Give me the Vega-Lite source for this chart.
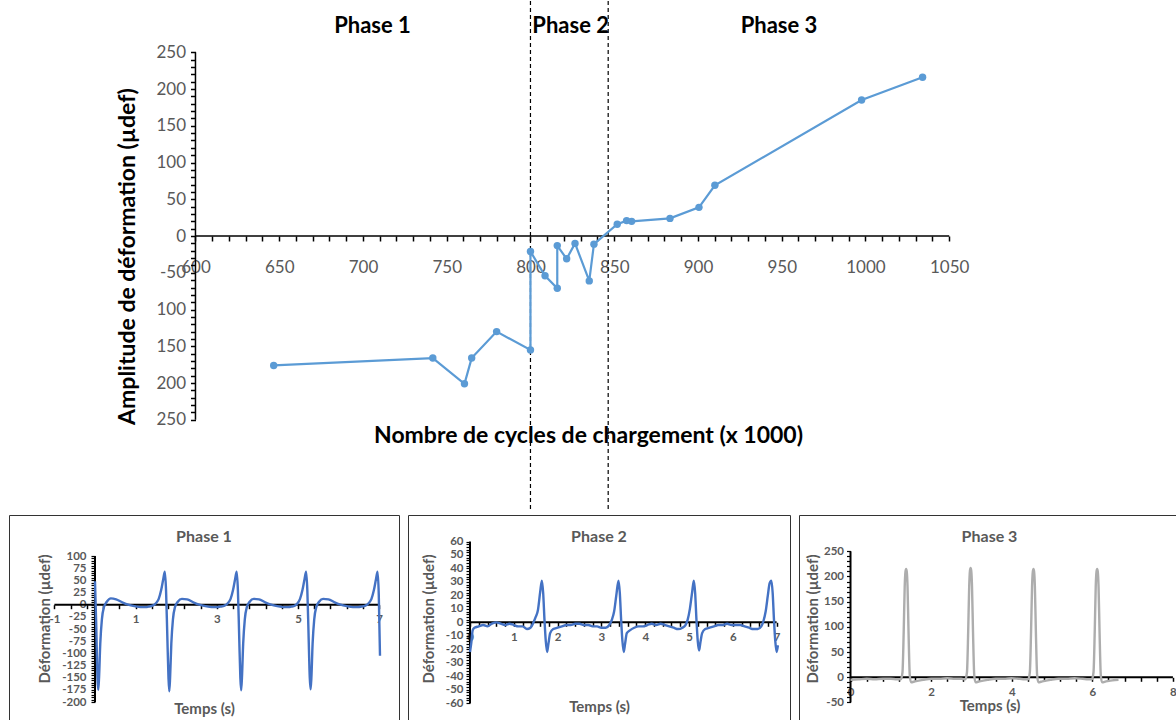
{
  "$schema": "https://vega.github.io/schema/vega-lite/v6.json",
  "padding": 0,
  "background": "white",
  "spacing": 2,
  "config": {
    "view": {"stroke": null},
    "font": "Lato",
    "axis": {"domain": false, "grid": false, "labelOverlap": false, "labelFlush": false, "labelBound": false, "tickColor": "black", "labelFont": "Lato", "titleFont": "Lato"}
  },
  "vconcat": [
    {
      "width": 1176,
      "height": 510,
      "encoding": {
        "x": {"field": "n", "type": "quantitative", "scale": {"domain": [483.3, 1185.4], "nice": false, "zero": false},
          "axis": {"values": [600,610,620,630,640,650,660,670,680,690,700,710,720,730,740,750,760,770,780,790,800,810,820,830,840,850,860,870,880,890,900,910,920,930,940,950,960,970,980,990,1000,1010,1020,1030,1040,1050],
            "format": "d",
            "labelExpr": "datum.value % 50 == 0 ? datum.label : ''",
            "offset": -275, "tickSize": 5, "tickWidth": 1.5, "labelPadding": 18, "labelFontSize": 17, "labelColor": "#595959",
            "title": "Nombre de cycles de chargement (x 1000)", "titleFontSize": 23, "titleColor": "black", "titleFontWeight": "bold", "titlePadding": 149}},
        "y": {"field": "a", "type": "quantitative", "scale": {"domain": [-374, 319.7], "nice": false, "zero": false},
          "axis": {"values": [-250,-240,-230,-220,-210,-200,-190,-180,-170,-160,-150,-140,-130,-120,-110,-100,-90,-80,-70,-60,-50,-40,-30,-20,-10,0,10,20,30,40,50,60,70,80,90,100,110,120,130,140,150,160,170,180,190,200,210,220,230,240,250],
            "labelExpr": "datum.value % 50 != 0 ? '' : (datum.value == -50 ? '-50' : '' + abs(datum.value))",
            "offset": -195.5, "tickSize": 5, "tickWidth": 1.5, "labelPadding": 5, "labelFontSize": 17, "labelColor": "#595959",
            "title": "Amplitude de déformation (µdef)", "titleFontSize": 23, "titleColor": "black", "titleFontWeight": "bold", "titlePadding": 16}}
      },
      "layer": [
        {
          "data": {"values": [{"n": 800, "a": 319.7, "a2": -374}, {"n": 846.4, "a": 319.7, "a2": -374}]},
          "mark": {"type": "rule", "color": "black", "strokeDash": [4, 3], "strokeWidth": 1.2},
          "encoding": {"y2": {"field": "a2"}}
        },
        {
          "data": {"values": [{"n": 600, "a": -250, "a2": 250}]},
          "mark": {"type": "rule", "color": "black", "strokeWidth": 1.5},
          "encoding": {"y2": {"field": "a2"}}
        },
        {
          "data": {"values": [{"n": 600, "n2": 1050, "a": 0}]},
          "mark": {"type": "rule", "color": "black", "strokeWidth": 1.5},
          "encoding": {"x2": {"field": "n2"}}
        },
        {
          "data": {"values": [
            {"i": 1, "n": 646.7, "a": -176},
            {"i": 2, "n": 741.7, "a": -166},
            {"i": 3, "n": 760.6, "a": -201},
            {"i": 4, "n": 764.9, "a": -166},
            {"i": 5, "n": 779.8, "a": -130},
            {"i": 6, "n": 800, "a": -155},
            {"i": 7, "n": 800, "a": -21},
            {"i": 8, "n": 808.7, "a": -54},
            {"i": 9, "n": 816, "a": -71},
            {"i": 10, "n": 816, "a": -13},
            {"i": 11, "n": 821.6, "a": -31},
            {"i": 12, "n": 826.6, "a": -10},
            {"i": 13, "n": 835.1, "a": -61},
            {"i": 14, "n": 837.9, "a": -11},
            {"i": 15, "n": 851.8, "a": 16},
            {"i": 16, "n": 857.4, "a": 21},
            {"i": 17, "n": 860.4, "a": 20},
            {"i": 18, "n": 883.3, "a": 24},
            {"i": 19, "n": 900.6, "a": 39},
            {"i": 20, "n": 910.1, "a": 69},
            {"i": 21, "n": 997.7, "a": 185},
            {"i": 22, "n": 1034.1, "a": 216}
          ]},
          "mark": {"type": "line", "color": "#5B9BD5", "strokeWidth": 2.2, "point": {"filled": true, "size": 55, "color": "#5B9BD5"}},
          "encoding": {"order": {"field": "i", "type": "quantitative"}}
        },
        {
          "data": {"values": [
            {"n": 705.7, "a": 285.7, "label": "Phase 1"},
            {"n": 824, "a": 285.7, "label": "Phase 2"},
            {"n": 948.4, "a": 285.7, "label": "Phase 3"}
          ]},
          "mark": {"type": "text", "font": "Lato", "fontSize": 22, "fontWeight": "bold", "color": "black"},
          "encoding": {"text": {"field": "label"}}
        }
      ]
    },
    {
      "spacing": 7,
      "hconcat": [
        {
          "width": 1,
          "height": 207,
          "data": {"values": [{"s": ""}]},
          "mark": {"type": "text"},
          "encoding": {"text": {"field": "s"}}
        },
        {
          "width": 390,
          "height": 207,
          "view": {"stroke": "#333333", "strokeWidth": 1},
          "title": {"text": "Phase 1", "fontSize": 16, "color": "#595959", "font": "Lato", "fontWeight": "bold", "offset": -38, "frame": "group", "baseline": "middle", "anchor": "middle"},
          "encoding": {
            "x": {"field": "t", "type": "quantitative", "scale": {"domain": [-2.118, 7.488], "nice": false, "zero": false},
              "axis": {"values": [-1,-0.6,-0.2,0.2,0.6,1,1.4,1.8,2.2,2.6,3,3.4,3.8,4.2,4.6,5,5.4,5.8,6.2,6.6,7],
                "labelExpr": "(datum.value == floor(datum.value) && abs(datum.value % 2) == 1) ? '' + datum.value : ''",
                "offset": -117.3, "tickSize": 4, "tickWidth": 1.5, "labelPadding": 5, "labelFontSize": 11.5, "labelFontWeight": "bold", "labelColor": "#595959",
                "title": "Temps (s)", "titleFontSize": 15, "titleColor": "#595959", "titleFontWeight": "bold", "titlePadding": 76}},
            "y": {"field": "v", "type": "quantitative", "scale": {"domain": [-241, 184.3], "nice": false, "zero": false},
              "axis": {"values": [-200,-195,-190,-185,-180,-175,-170,-165,-160,-155,-150,-145,-140,-135,-130,-125,-120,-115,-110,-105,-100,-95,-90,-85,-80,-75,-70,-65,-60,-55,-50,-45,-40,-35,-30,-25,-20,-15,-10,-5,0,5,10,15,20,25,30,35,40,45,50,55,60,65,70,75,80,85,90,95,100],
                "labelExpr": "datum.value % 25 == 0 ? '' + datum.value : ''",
                "offset": -86, "tickSize": 4, "tickWidth": 1.2, "labelPadding": 5, "labelFontSize": 11.5, "labelFontWeight": "bold", "labelColor": "#595959",
                "title": "Déformation (µdef)", "titleFontSize": 15, "titleColor": "#595959", "titleFontWeight": "bold", "titlePadding": 9}}
          },
          "layer": [
            {
              "data": {"values": [{"t": 0, "v": -200, "v2": 100}]},
              "mark": {"type": "rule", "color": "black", "strokeWidth": 2},
              "encoding": {"y2": {"field": "v2"}}
            },
            {
              "data": {"values": [{"t": -1, "t2": 7, "v": 0}]},
              "mark": {"type": "rule", "color": "black", "strokeWidth": 2},
              "encoding": {"x2": {"field": "t2"}}
            },
            {
              "data": {"values": [
                {"t": 0, "v": 48}, {"t": 0.03, "v": -40}, {"t": 0.06, "v": -150}, {"t": 0.08, "v": -175}, {"t": 0.1, "v": -150}, {"t": 0.13, "v": -80}, {"t": 0.17, "v": -30}, {"t": 0.22, "v": -5}, {"t": 0.29, "v": 6}, {"t": 0.39, "v": 13}, {"t": 0.52, "v": 11}, {"t": 0.67, "v": 5}, {"t": 0.82, "v": 0}, {"t": 0.97, "v": -3}, {"t": 1.12, "v": -5}, {"t": 1.25, "v": -5},
                {"t": 1.32, "v": -4}, {"t": 1.42, "v": -2}, {"t": 1.5, "v": 3}, {"t": 1.57, "v": 12}, {"t": 1.63, "v": 30}, {"t": 1.68, "v": 52}, {"t": 1.72, "v": 68}, {"t": 1.75, "v": 30}, {"t": 1.78, "v": -60}, {"t": 1.81, "v": -150}, {"t": 1.83, "v": -178}, {"t": 1.85, "v": -150}, {"t": 1.88, "v": -80}, {"t": 1.92, "v": -30}, {"t": 1.97, "v": -5}, {"t": 2.04, "v": 6}, {"t": 2.14, "v": 12}, {"t": 2.27, "v": 11}, {"t": 2.42, "v": 5}, {"t": 2.57, "v": 0}, {"t": 2.72, "v": -3}, {"t": 2.87, "v": -5}, {"t": 2.99, "v": -5},
                {"t": 3.09, "v": -4}, {"t": 3.19, "v": -2}, {"t": 3.27, "v": 3}, {"t": 3.34, "v": 12}, {"t": 3.4, "v": 30}, {"t": 3.45, "v": 52}, {"t": 3.49, "v": 68}, {"t": 3.52, "v": 30}, {"t": 3.55, "v": -60}, {"t": 3.58, "v": -150}, {"t": 3.6, "v": -176}, {"t": 3.62, "v": -150}, {"t": 3.65, "v": -80}, {"t": 3.69, "v": -30}, {"t": 3.74, "v": -5}, {"t": 3.81, "v": 6}, {"t": 3.91, "v": 12}, {"t": 4.04, "v": 11}, {"t": 4.19, "v": 5}, {"t": 4.34, "v": 0}, {"t": 4.49, "v": -3}, {"t": 4.64, "v": -5}, {"t": 4.76, "v": -5},
                {"t": 4.84, "v": -4}, {"t": 4.92, "v": -2}, {"t": 4.99, "v": 3}, {"t": 5.05, "v": 12}, {"t": 5.11, "v": 30}, {"t": 5.16, "v": 52}, {"t": 5.2, "v": 68}, {"t": 5.23, "v": 30}, {"t": 5.26, "v": -60}, {"t": 5.29, "v": -150}, {"t": 5.31, "v": -174}, {"t": 5.33, "v": -150}, {"t": 5.36, "v": -80}, {"t": 5.4, "v": -30}, {"t": 5.45, "v": -5}, {"t": 5.52, "v": 6}, {"t": 5.62, "v": 12}, {"t": 5.75, "v": 11}, {"t": 5.9, "v": 5}, {"t": 6.05, "v": 0}, {"t": 6.2, "v": -3}, {"t": 6.35, "v": -5}, {"t": 6.48, "v": -5},
                {"t": 6.56, "v": -4}, {"t": 6.66, "v": -2}, {"t": 6.74, "v": 3}, {"t": 6.81, "v": 12}, {"t": 6.87, "v": 30}, {"t": 6.92, "v": 52}, {"t": 6.96, "v": 68}, {"t": 6.99, "v": 20}, {"t": 7.02, "v": -105}
              ]},
              "mark": {"type": "line", "color": "#4472C4", "strokeWidth": 2.4, "interpolate": "monotone"},
              "encoding": {}
            }
          ]
        },
        {
          "width": 382,
          "height": 207,
          "view": {"stroke": "#333333", "strokeWidth": 1},
          "title": {"text": "Phase 2", "fontSize": 16, "color": "#595959", "font": "Lato", "fontWeight": "bold", "offset": -38, "frame": "group", "baseline": "middle", "anchor": "middle"},
          "encoding": {
            "x": {"field": "t", "type": "quantitative", "scale": {"domain": [-1.416, 7.306], "nice": false, "zero": false},
              "axis": {"values": [0,0.2,0.4,0.6,0.8,1,1.2,1.4,1.6,1.8,2,2.2,2.4,2.6,2.8,3,3.2,3.4,3.6,3.8,4,4.2,4.4,4.6,4.8,5,5.2,5.4,5.6,5.8,6,6.2,6.4,6.6,6.8,7],
                "labelExpr": "datum.value == floor(datum.value) ? '' + datum.value : ''",
                "offset": -99.7, "tickSize": 4, "tickWidth": 1.5, "labelPadding": 5, "labelFontSize": 11.5, "labelFontWeight": "bold", "labelColor": "#595959",
                "title": "Temps (s)", "titleFontSize": 15, "titleColor": "#595959", "titleFontWeight": "bold", "titlePadding": 57}},
            "y": {"field": "v", "type": "quantitative", "scale": {"domain": [-74.0, 79.7], "nice": false, "zero": false},
              "axis": {"values": [-60,-58,-56,-54,-52,-50,-48,-46,-44,-42,-40,-38,-36,-34,-32,-30,-28,-26,-24,-22,-20,-18,-16,-14,-12,-10,-8,-6,-4,-2,0,2,4,6,8,10,12,14,16,18,20,22,24,26,28,30,32,34,36,38,40,42,44,46,48,50,52,54,56,58,60],
                "labelExpr": "datum.value % 10 == 0 ? '' + datum.value : ''",
                "offset": -62, "tickSize": 4, "tickWidth": 1.2, "labelPadding": 3, "labelFontSize": 11.5, "labelFontWeight": "bold", "labelColor": "#595959",
                "title": "Déformation  (µdef)", "titleFontSize": 15, "titleColor": "#595959", "titleFontWeight": "bold", "titlePadding": 9}}
          },
          "layer": [
            {
              "data": {"values": [{"t": 0, "v": -60, "v2": 60}]},
              "mark": {"type": "rule", "color": "black", "strokeWidth": 2},
              "encoding": {"y2": {"field": "v2"}}
            },
            {
              "data": {"values": [{"t": 0, "t2": 7, "v": 0}]},
              "mark": {"type": "rule", "color": "black", "strokeWidth": 2},
              "encoding": {"x2": {"field": "t2"}}
            },
            {
              "data": {"values": [
                {"t": 0, "v": -22}, {"t": 0.03, "v": -15}, {"t": 0.06, "v": -6}, {"t": 0.1, "v": -4}, {"t": 0.2, "v": -3}, {"t": 0.3, "v": -2}, {"t": 0.4, "v": -3}, {"t": 0.5, "v": -1}, {"t": 0.6, "v": 0}, {"t": 0.7, "v": -1}, {"t": 0.8, "v": -2}, {"t": 0.9, "v": -1}, {"t": 1.0, "v": -2}, {"t": 1.1, "v": -3}, {"t": 1.2, "v": -3}, {"t": 1.3, "v": -5}, {"t": 1.38, "v": -4},
                {"t": 1.45, "v": 0}, {"t": 1.5, "v": 4}, {"t": 1.55, "v": 9}, {"t": 1.6, "v": 22}, {"t": 1.64, "v": 31}, {"t": 1.67, "v": 22}, {"t": 1.7, "v": 2}, {"t": 1.73, "v": -14}, {"t": 1.76, "v": -22}, {"t": 1.79, "v": -16}, {"t": 1.83, "v": -8}, {"t": 1.9, "v": -5},
                {"t": 2.0, "v": -4}, {"t": 2.1, "v": -3}, {"t": 2.2, "v": -2}, {"t": 2.3, "v": -2}, {"t": 2.4, "v": -1}, {"t": 2.5, "v": -1}, {"t": 2.6, "v": -2}, {"t": 2.7, "v": -2}, {"t": 2.8, "v": -3}, {"t": 2.9, "v": -3}, {"t": 3.0, "v": -4}, {"t": 3.1, "v": -4},
                {"t": 3.18, "v": -2}, {"t": 3.24, "v": 2}, {"t": 3.29, "v": 8}, {"t": 3.34, "v": 20}, {"t": 3.39, "v": 31}, {"t": 3.42, "v": 22}, {"t": 3.45, "v": 2}, {"t": 3.48, "v": -14}, {"t": 3.51, "v": -22}, {"t": 3.54, "v": -16}, {"t": 3.58, "v": -8}, {"t": 3.65, "v": -6},
                {"t": 3.75, "v": -4}, {"t": 3.85, "v": -3}, {"t": 3.95, "v": -3}, {"t": 4.05, "v": -2}, {"t": 4.15, "v": -1}, {"t": 4.25, "v": -2}, {"t": 4.35, "v": -1}, {"t": 4.45, "v": -2}, {"t": 4.55, "v": -3}, {"t": 4.65, "v": -4}, {"t": 4.75, "v": -5}, {"t": 4.85, "v": -4},
                {"t": 4.92, "v": -2}, {"t": 4.97, "v": 2}, {"t": 5.02, "v": 10}, {"t": 5.07, "v": 22}, {"t": 5.11, "v": 31}, {"t": 5.14, "v": 22}, {"t": 5.17, "v": 2}, {"t": 5.2, "v": -14}, {"t": 5.23, "v": -21}, {"t": 5.26, "v": -15}, {"t": 5.3, "v": -8}, {"t": 5.37, "v": -5},
                {"t": 5.47, "v": -4}, {"t": 5.57, "v": -3}, {"t": 5.67, "v": -2}, {"t": 5.77, "v": -2}, {"t": 5.87, "v": -1}, {"t": 5.97, "v": -2}, {"t": 6.07, "v": -2}, {"t": 6.17, "v": -2}, {"t": 6.27, "v": -3}, {"t": 6.37, "v": -4}, {"t": 6.47, "v": -5}, {"t": 6.57, "v": -5},
                {"t": 6.65, "v": -3}, {"t": 6.7, "v": 1}, {"t": 6.75, "v": 8}, {"t": 6.8, "v": 20}, {"t": 6.84, "v": 29}, {"t": 6.88, "v": 31}, {"t": 6.91, "v": 22}, {"t": 6.94, "v": 2}, {"t": 6.97, "v": -14}, {"t": 7.0, "v": -22}, {"t": 7.03, "v": -17}
              ]},
              "mark": {"type": "line", "color": "#4472C4", "strokeWidth": 2.4, "interpolate": "monotone"},
              "encoding": {}
            }
          ]
        },
        {
          "width": 381,
          "height": 207,
          "view": {"stroke": "#333333", "strokeWidth": 1},
          "title": {"text": "Phase 3", "fontSize": 16, "color": "#595959", "font": "Lato", "fontWeight": "bold", "offset": -38, "frame": "group", "baseline": "middle", "anchor": "middle"},
          "encoding": {
            "x": {"field": "t", "type": "quantitative", "scale": {"domain": [-1.278, 8.176], "nice": false, "zero": false},
              "axis": {"values": [0,0.4,0.8,1.2,1.6,2,2.4,2.8,3.2,3.6,4,4.4,4.8,5.2,5.6,6,6.4,6.8,7.2,7.6,8],
                "labelExpr": "datum.value % 2 == 0 ? '' + datum.value : ''",
                "offset": -44.7, "tickSize": 4, "tickWidth": 1.5, "labelPadding": 5, "labelFontSize": 11.5, "labelFontWeight": "bold", "labelColor": "#595959",
                "title": "Temps (s)", "titleFontSize": 15, "titleColor": "#595959", "titleFontWeight": "bold", "titlePadding": 1}},
            "y": {"field": "v", "type": "quantitative", "scale": {"domain": [-88.7, 322], "nice": false, "zero": false},
              "axis": {"values": [-50,-40,-30,-20,-10,0,10,20,30,40,50,60,70,80,90,100,110,120,130,140,150,160,170,180,190,200,210,220,230,240,250],
                "labelExpr": "datum.value % 50 == 0 ? '' + datum.value : ''",
                "offset": -51.5, "tickSize": 4, "tickWidth": 1.2, "labelPadding": 3, "labelFontSize": 11.5, "labelFontWeight": "bold", "labelColor": "#595959",
                "title": "Déformation (µdef)", "titleFontSize": 15, "titleColor": "#595959", "titleFontWeight": "bold", "titlePadding": 3}}
          },
          "layer": [
            {
              "data": {"values": [{"t": 0, "v": -50, "v2": 250}]},
              "mark": {"type": "rule", "color": "black", "strokeWidth": 2},
              "encoding": {"y2": {"field": "v2"}}
            },
            {
              "data": {"values": [{"t": 0, "t2": 8, "v": 0}]},
              "mark": {"type": "rule", "color": "black", "strokeWidth": 2},
              "encoding": {"x2": {"field": "t2"}}
            },
            {
              "data": {"values": [
                {"t": 0, "v": -5}, {"t": 0.2, "v": -4}, {"t": 0.4, "v": -3}, {"t": 0.6, "v": -4}, {"t": 0.8, "v": -3}, {"t": 1.0, "v": -3}, {"t": 1.15, "v": -4},
                {"t": 1.25, "v": -4}, {"t": 1.29, "v": 10}, {"t": 1.32, "v": 90}, {"t": 1.345, "v": 180}, {"t": 1.365, "v": 210}, {"t": 1.38, "v": 215}, {"t": 1.395, "v": 210}, {"t": 1.415, "v": 180}, {"t": 1.44, "v": 90}, {"t": 1.47, "v": 5}, {"t": 1.5, "v": -10}, {"t": 1.6, "v": -8},
                {"t": 1.8, "v": -5}, {"t": 2.0, "v": -3}, {"t": 2.2, "v": -3}, {"t": 2.4, "v": -2}, {"t": 2.6, "v": -3}, {"t": 2.75, "v": -3},
                {"t": 2.85, "v": -4}, {"t": 2.89, "v": 10}, {"t": 2.92, "v": 90}, {"t": 2.945, "v": 180}, {"t": 2.965, "v": 212}, {"t": 2.98, "v": 217}, {"t": 2.995, "v": 212}, {"t": 3.015, "v": 180}, {"t": 3.04, "v": 90}, {"t": 3.07, "v": 5}, {"t": 3.1, "v": -10}, {"t": 3.2, "v": -8},
                {"t": 3.4, "v": -5}, {"t": 3.6, "v": -3}, {"t": 3.8, "v": -3}, {"t": 4.0, "v": -2}, {"t": 4.2, "v": -3}, {"t": 4.32, "v": -4},
                {"t": 4.41, "v": -4}, {"t": 4.45, "v": 10}, {"t": 4.48, "v": 90}, {"t": 4.505, "v": 180}, {"t": 4.525, "v": 210}, {"t": 4.54, "v": 215}, {"t": 4.555, "v": 210}, {"t": 4.575, "v": 180}, {"t": 4.6, "v": 90}, {"t": 4.63, "v": 5}, {"t": 4.66, "v": -10}, {"t": 4.76, "v": -8},
                {"t": 4.96, "v": -5}, {"t": 5.16, "v": -3}, {"t": 5.36, "v": -3}, {"t": 5.56, "v": -2}, {"t": 5.76, "v": -3}, {"t": 5.9, "v": -4},
                {"t": 5.99, "v": -4}, {"t": 6.03, "v": 10}, {"t": 6.06, "v": 90}, {"t": 6.085, "v": 180}, {"t": 6.105, "v": 210}, {"t": 6.12, "v": 215}, {"t": 6.135, "v": 210}, {"t": 6.155, "v": 180}, {"t": 6.18, "v": 90}, {"t": 6.21, "v": 5}, {"t": 6.24, "v": -10}, {"t": 6.34, "v": -8}, {"t": 6.5, "v": -6}, {"t": 6.65, "v": -5}
              ]},
              "mark": {"type": "line", "color": "#ADADAD", "strokeWidth": 2.4, "interpolate": "monotone"},
              "encoding": {}
            }
          ]
        }
      ]
    }
  ]
}
